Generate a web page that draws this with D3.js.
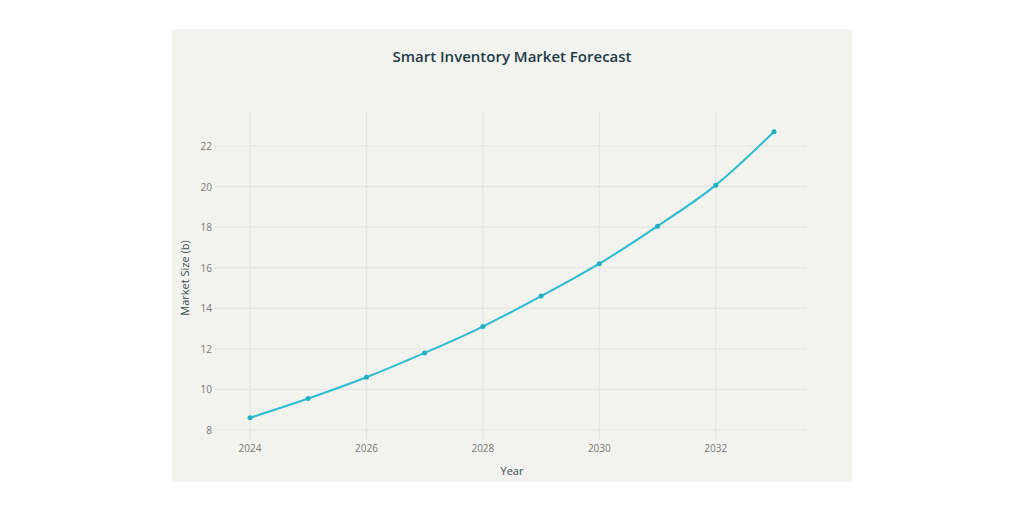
<!DOCTYPE html>
<html><head><meta charset="utf-8">
<script src="https://cdn.jsdelivr.net/npm/d3@7"></script>
<style>body{margin:0;background:#fff;font-family:"Open Sans",sans-serif;}</style>
</head><body><div id="vis"></div>
<script>
const years = [2024, 2025, 2026, 2027, 2028, 2029, 2030, 2031, 2032, 2033];
const marketSize = [8.6, 9.55, 10.6, 11.8, 13.1, 14.6, 16.2, 18.05, 20.07, 22.7];
const yTicks = [8, 10, 12, 14, 16, 18, 20, 22];
const xTicks = [2024, 2026, 2028, 2030, 2032];

const width = 1024, height = 512;
let svg = d3.select('#vis').append('svg').attr('width', width).attr('height', height);

// panel background
svg.append('rect').attr('x', 172).attr('y', 29).attr('width', 680).attr('height', 453).attr('fill', '#f2f2ee');

let xScale = d3.scaleLinear().domain([2024, 2033]).range([250, 774]);
let yScale = d3.scaleLinear().domain([8, 22]).range([430, 146]);

// gridlines
svg.append('g').selectAll('line').data(yTicks).join('line')
    .attr('x1', 215).attr('x2', 806)
    .attr('y1', d => yScale(d)).attr('y2', d => yScale(d))
    .attr('stroke', '#d6d6d2').attr('stroke-dasharray', '1,1');
svg.append('g').selectAll('line').data(xTicks).join('line')
    .attr('y1', 113).attr('y2', 440)
    .attr('x1', d => xScale(d)).attr('x2', d => xScale(d))
    .attr('stroke', '#d6d6d2').attr('stroke-dasharray', '1,1');

// tick labels
svg.append('g').selectAll('text').data(yTicks).join('text')
    .attr('x', 212).attr('y', d => yScale(d) + 4)
    .attr('text-anchor', 'end').attr('font-size', 10).attr('fill', '#777')
    .text(d => d);
svg.append('g').selectAll('text').data(xTicks).join('text')
    .attr('x', d => xScale(d)).attr('y', 452)
    .attr('text-anchor', 'middle').attr('font-size', 10).attr('fill', '#777')
    .text(d => d);

// titles
svg.append('text').attr('x', 512).attr('y', 62).attr('text-anchor', 'middle')
    .attr('font-size', 15).attr('font-weight', 600).attr('fill', '#1f3a44')
    .text('Smart Inventory Market Forecast');
svg.append('text').attr('x', 512).attr('y', 475).attr('text-anchor', 'middle')
    .attr('font-size', 11).attr('fill', '#3a4a50').text('Year');
svg.append('text').attr('transform', 'translate(189,278) rotate(-90)').attr('text-anchor', 'middle')
    .attr('font-size', 11).attr('fill', '#3a4a50').text('Market Size (b)');

// line and points
const pts = years.map((y, i) => [y, marketSize[i]]);
svg.append('path').datum(pts)
    .attr('fill', 'none').attr('stroke', '#2bbcd0').attr('stroke-width', 2)
    .attr('d', d3.line().x(d => xScale(d[0])).y(d => yScale(d[1])).curve(d3.curveMonotoneX));
svg.append('g').selectAll('circle').data(pts).join('circle')
    .attr('cx', d => xScale(d[0])).attr('cy', d => yScale(d[1])).attr('r', 2.5)
    .attr('fill', '#1fb0c4');
</script></body></html>
